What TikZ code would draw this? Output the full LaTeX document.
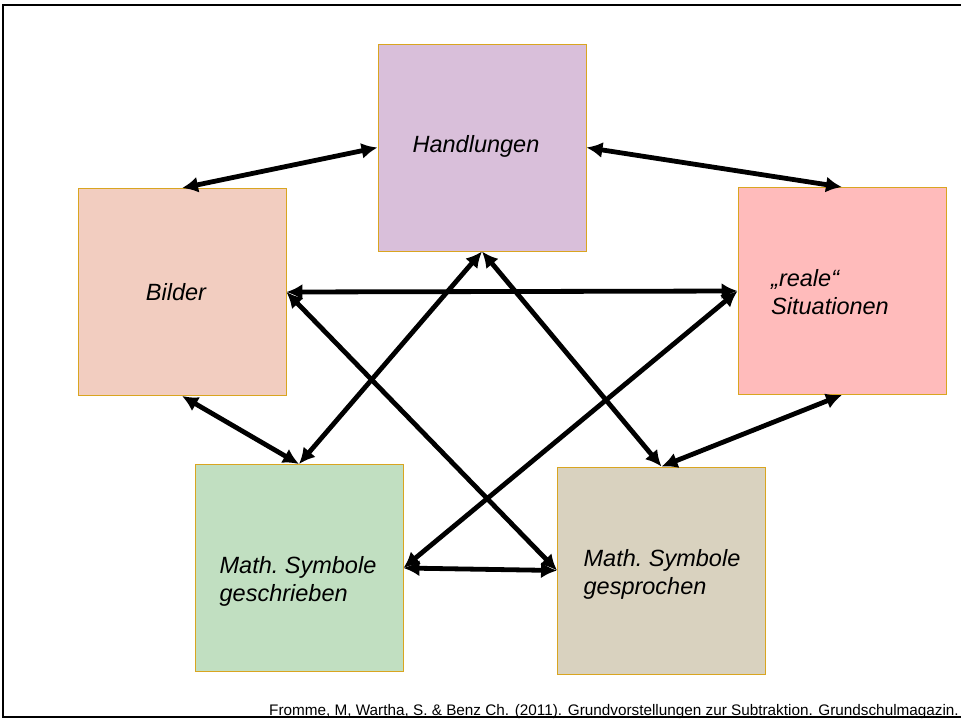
\documentclass[tikz,border=0pt]{standalone}
\usepackage{fontspec}
\setmainfont{Liberation Sans}
\usetikzlibrary{arrows.meta}
\definecolor{lila}{HTML}{D9BFDA}
\definecolor{lachs}{HTML}{F2CDC0}
\definecolor{rosa}{HTML}{FFBBBB}
\definecolor{mint}{HTML}{C1DFC1}
\definecolor{sand}{HTML}{D9D2BF}
\definecolor{rand}{HTML}{D9A520}
\tikzset{
	feld/.style={draw=rand, line width=0.9pt, minimum width=208pt, minimum height=207pt, inner sep=0pt},
	schrift/.style={align=left, inner sep=0pt, font=\fontsize{23.5}{28}\selectfont\itshape},
	pfeil/.style={line width=4.8pt, {Latex[length=16pt,width=16pt]}-{Latex[length=16pt,width=16pt]}}
}
\begin{document}
\begin{tikzpicture}[x=1pt,y=-1pt]
	\useasboundingbox (0,0) rectangle (961,724);
	% rahmen
	\draw[line width=2.8pt] (3,5) rectangle (975,717);
	% felder
	\node[feld, fill=lila] (hand) at (482,147.5) {};
	\node[feld, fill=lachs] (bild) at (182,292) {};
	\node[feld, fill=rosa] (real) at (842,291) {};
	\node[feld, fill=mint] (schr) at (299,568) {};
	\node[feld, fill=sand] (spr) at (661.5,570.5) {};
	% texte
	\node[schrift] (hand-t) at (476,146) {Handlungen};
	\node[schrift] (bild-t) at (176,292) {Bilder};
	\node[schrift] (real-t) at (830,292) {,,reale``\\Situationen};
	\node[schrift] (schr-t) at (298,581) {Math.\ Symbole\\geschrieben};
	\node[schrift] (spr-t) at (662,574) {Math.\ Symbole\\gesprochen};
	% pfeile
	\foreach \a/\b in {bild.north/hand.west, hand.east/real.north, bild.east/real.west,
		hand.south/schr.north, hand.south/spr.north, bild.east/spr.west,
		real.west/schr.east, bild.south/schr.north, real.south/spr.north, schr.east/spr.west}
	\draw[pfeil] (\a) -- (\b);
	% quelle
	\node[anchor=base east, inner sep=0pt, font=\fontsize{15.3}{17}\selectfont] (quelle) at (959,715)
		{Fromme, M, Wartha, S. \& Benz Ch. (2011). Grundvorstellungen zur Subtraktion. Grundschulmagazin.};
\end{tikzpicture}
\end{document}
